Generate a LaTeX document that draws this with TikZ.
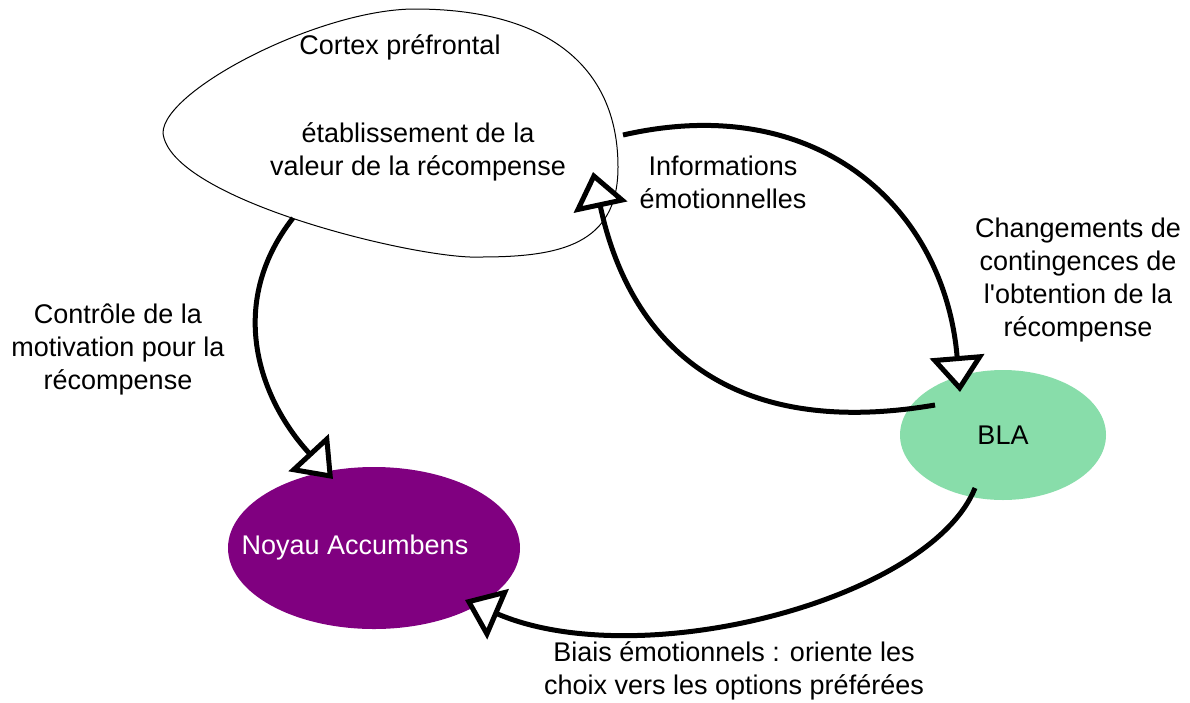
\documentclass[tikz,border=0pt]{standalone}
\usepackage{fontspec}
\setmainfont{Liberation Sans}
\usetikzlibrary{arrows.meta,shapes.geometric}
\definecolor{blagreen}{RGB}{136,221,170}
\definecolor{nacpurple}{RGB}{128,0,128}

\begin{document}
\begin{tikzpicture}[x=1pt, y=-1pt,
    every node/.style={font=\fontsize{27}{33}\selectfont, align=center},
    region/.style={ellipse, inner sep=0pt},
    link/.style={line width=5pt, -{Triangle[fill=white, length=36pt, width=54pt]}}
  ]
    \useasboundingbox (0,0) rectangle (1190,702);

    % Cortex prefrontal (egg shaped outline)
    \coordinate (pfc-l) at (163,133);
    \coordinate (pfc-t) at (415,9);
    \coordinate (pfc-r) at (618,167);
    \coordinate (pfc-b) at (480,257);
    \draw[line width=1pt] (pfc-l) .. controls (163,90) and (320,9) .. (pfc-t)
      .. controls (545,9) and (618,65) .. (pfc-r)
      .. controls (618,245) and (560,257) .. (pfc-b)
      .. controls (420,260) and (170,200) .. (pfc-l) -- cycle;
    \node (pfc) at (400,47) {Cortex préfrontal};
    \node (pfcval) at (418,152) {établissement de la\\valeur de la récompense};

    % BLA and Noyau Accumbens
    \node[region, fill=blagreen, minimum width=206pt, minimum height=130pt] (bla) at (1003,435) {BLA};
    \node[region, fill=nacpurple, minimum width=292pt, minimum height=162pt] (nac) at (374,548) {};
    \node[text=white] (nacname) at (355,548) {Noyau Accumbens};

    % Connector end points
    \coordinate (pfc-out1) at (293,218);
    \coordinate (nac-in1) at (333,479);
    \coordinate (bla-out1) at (935,405);
    \coordinate (pfc-in) at (593,172);
    \coordinate (pfc-out2) at (623,135);
    \coordinate (bla-in) at (960,392);
    \coordinate (bla-out2) at (975,488);
    \coordinate (nac-in2) at (465,600);

    % Connectors
    \draw[link] (pfc-out1) .. controls (225,305) and (260,400) .. (nac-in1);
    \draw[link] (bla-out1) .. controls (730,440) and (630,345) .. (pfc-in);
    \draw[link] (pfc-out2) .. controls (820,90) and (945,210) .. (bla-in);
    \draw[link] (bla-out2) .. controls (930,600) and (640,675) .. (nac-in2);

    % Connector labels
    \node (ctrllbl) at (118,349) {Contrôle de la\\motivation pour la\\récompense};
    \node (infolbl) at (723,182) {Informations\\émotionnelles};
    \node (chglbl) at (1078,280) {Changements de\\contingences de\\l\textquotesingle obtention de la\\récompense};
    \node (biaslbl) at (734,671) {Biais émotionnels : oriente les\\choix vers les options préférées};

\end{tikzpicture}
\end{document}
